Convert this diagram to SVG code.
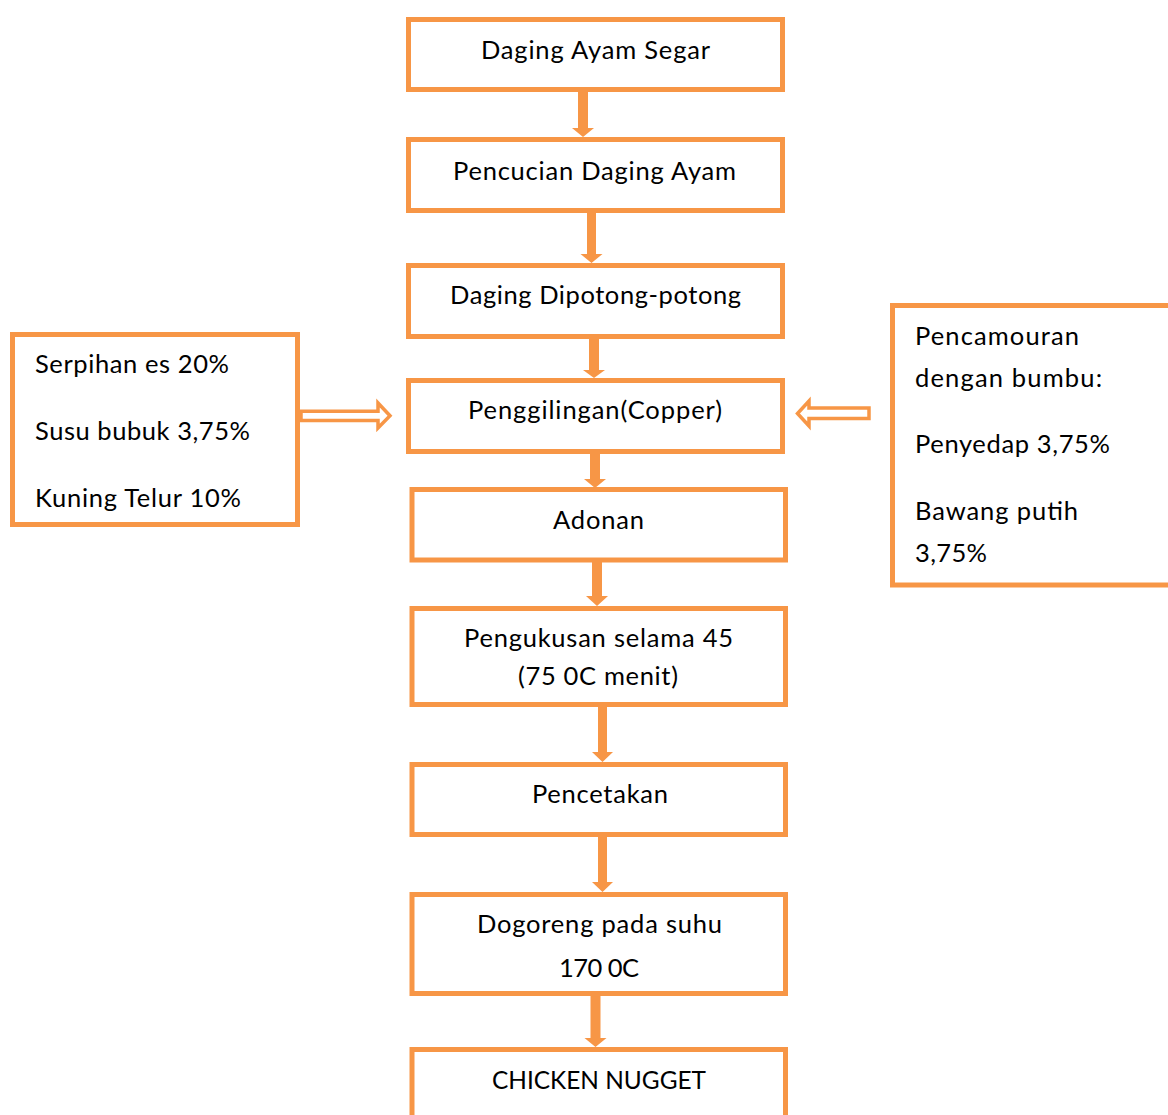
<svg xmlns="http://www.w3.org/2000/svg" width="1168" height="1115" viewBox="0 0 1168 1115">
<style>
.box{fill:#ffffff;stroke:#F79646;stroke-width:5}
.arr{fill:#F79646;stroke:none}
.barr{fill:#ffffff;stroke:#F79646;stroke-width:3.5;stroke-linejoin:miter}
text{font-family:Lato,"Open Sans","Liberation Sans",sans-serif;font-size:25.5px;fill:#000000}
.c{text-anchor:middle}
</style>
<rect width="1168" height="1115" fill="#ffffff"/>
<g id="connectors">
<polygon class="arr" points="578,91 588,91 588,128 594,128 583,137 572,128 578,128"/>
<polygon class="arr" points="587,212 596,212 596,254 602.5,254 591.5,263 580.5,254 587,254"/>
<polygon class="arr" points="589,338 599,338 599,370 605,370 594,378 583,370 589,370"/>
<polygon class="arr" points="590,453 600,453 600,479 606,479 595,488 584,479 590,479"/>
<polygon class="arr" points="592,562 602,562 602,596 608,596 597,606 586,596 592,596"/>
<polygon class="arr" points="598,706 607,706 607,752 613,752 602.5,762 592,752 598,752"/>
<polygon class="arr" points="598,836 607,836 607,882 613,882 602.5,892 592,882 598,882"/>
<polygon class="arr" points="590.5,995 600.5,995 600.5,1038 606.5,1038 595.5,1047 584.5,1038 590.5,1038"/>
<polygon class="barr" points="301,411.2 378,411.2 378,403 390,415.8 378,428 378,420.6 301,420.6"/>
<polygon class="barr" points="869,408 809,408 809,401 797.5,413.5 809,426 809,418.5 869,418.5"/>
</g>
<g id="n1"><rect class="box" x="408.5" y="19.5" width="374" height="70"/><text class="c" x="595.5" y="59" textLength="229" lengthAdjust="spacing">Daging Ayam Segar</text></g>
<g id="n2"><rect class="box" x="408.5" y="139.5" width="374" height="71"/><text class="c" x="594.5" y="180" textLength="283" lengthAdjust="spacing">Pencucian Daging Ayam</text></g>
<g id="n3"><rect class="box" x="408.5" y="265.5" width="374" height="71"/><text class="c" x="595.5" y="304" textLength="291" lengthAdjust="spacing">Daging Dipotong-potong</text></g>
<g id="n4"><rect class="box" x="408.5" y="380.5" width="374" height="71"/><text class="c" x="595" y="419" textLength="254" lengthAdjust="spacing">Penggilingan(Copper)</text></g>
<g id="n5"><rect class="box" x="412" y="489.5" width="373.5" height="70.5"/><text class="c" x="598.5" y="529" textLength="91" lengthAdjust="spacing">Adonan</text></g>
<g id="n6"><rect class="box" x="412" y="608.5" width="373.5" height="96"/><text class="c" x="598.5" y="647" textLength="269" lengthAdjust="spacing">Pengukusan selama 45</text><text class="c" x="598" y="685" textLength="160" lengthAdjust="spacing">(75 0C menit)</text></g>
<g id="n7"><rect class="box" x="412" y="764.5" width="373.5" height="70"/><text class="c" x="600" y="803" textLength="136" lengthAdjust="spacing">Pencetakan</text></g>
<g id="n8"><rect class="box" x="412" y="894.5" width="373.5" height="99"/><text class="c" x="599.5" y="933" textLength="245" lengthAdjust="spacing">Dogoreng pada suhu</text><text class="c" x="599" y="977" textLength="80" lengthAdjust="spacing">170 0C</text></g>
<g id="n9"><rect class="box" x="412" y="1049.5" width="373.5" height="100"/><text class="c" x="599" y="1089" textLength="214" lengthAdjust="spacingAndGlyphs">CHICKEN NUGGET</text></g>
<g id="left"><rect class="box" x="12.5" y="334.5" width="285" height="190"/><text x="35" y="373" textLength="194" lengthAdjust="spacing">Serpihan es 20%</text><text x="35" y="440" textLength="215" lengthAdjust="spacing">Susu bubuk 3,75%</text><text x="35" y="507" textLength="206" lengthAdjust="spacing">Kuning Telur 10%</text></g>
<g id="right"><rect class="box" x="892.5" y="305.5" width="300" height="279.5"/><text x="915" y="345" textLength="164" lengthAdjust="spacing">Pencamouran</text><text x="915" y="387" textLength="187" lengthAdjust="spacing">dengan bumbu:</text><text x="915" y="453" textLength="195" lengthAdjust="spacing">Penyedap 3,75%</text><text x="915" y="520" textLength="163" lengthAdjust="spacing">Bawang putih</text><text x="915" y="562" textLength="72" lengthAdjust="spacing">3,75%</text></g>
</svg>
